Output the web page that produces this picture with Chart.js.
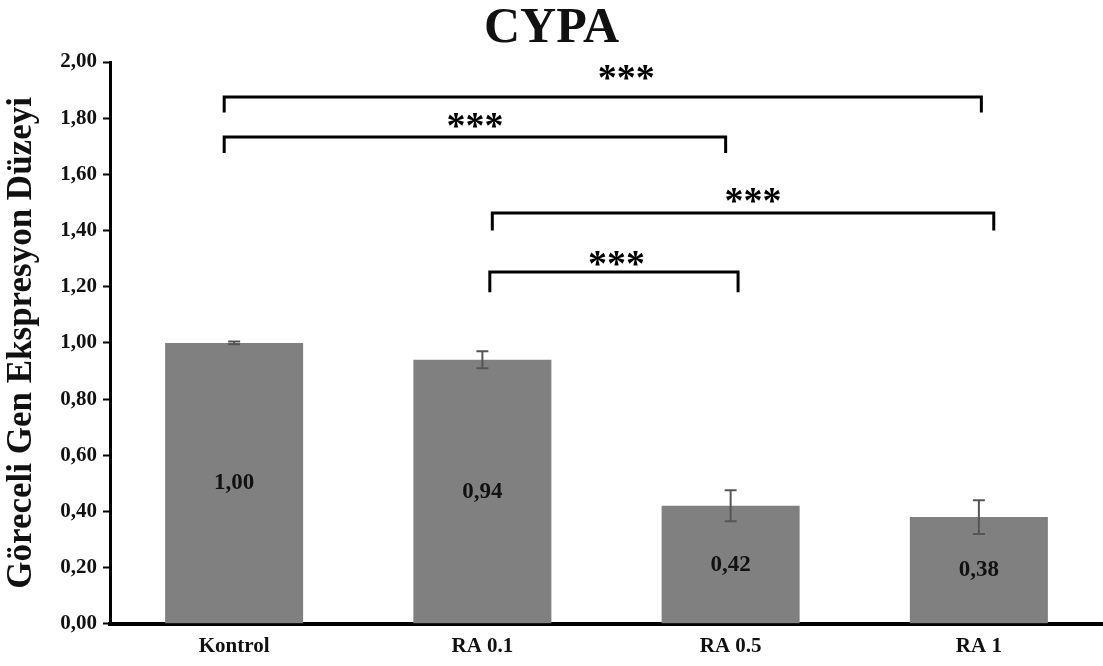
<!DOCTYPE html>
<html>
<head>
<meta charset="utf-8">
<script src="https://cdn.jsdelivr.net/npm/chart.js@4"></script>
<style>
  html, body { margin: 0; padding: 0; background: #ffffff; }
  #wrap { width: 1103px; height: 666px; }
</style>
</head>
<body>
<div id="wrap"><canvas id="cypa-chart"></canvas></div>
<script>
const categories = ['Kontrol', 'RA 0.1', 'RA 0.5', 'RA 1'];
const means = [1.00, 0.94, 0.42, 0.38];
const errors = [0.005, 0.03, 0.055, 0.06];
const mean_labels = ['1,00', '0,94', '0,42', '0,38'];
const y_ticks = [0, 0.2, 0.4, 0.6, 0.8, 1.0, 1.2, 1.4, 1.6, 1.8, 2.0];

// significance brackets (category index units / y value units)
const bracket_from = [-0.04, -0.04, 1.04, 1.03];
const bracket_to = [3.01, 1.98, 3.06, 2.03];
const bracket_y = [1.875, 1.733, 1.462, 1.252];
const bracket_leg = [1.82, 1.676, 1.40, 1.18];
const star_x = [1.58, 0.97, 2.09, 1.54];
const star_y = [1.946, 1.775, 1.508, 1.283];
const star_text = ['***', '***', '***', '***'];

const serif = '"Liberation Serif", "Times New Roman", serif';
const fmt = function (v) { return v.toFixed(2).replace('.', ','); };

const extrasPlugin = {
  id: 'extras',
  afterDatasetsDraw: function (chart) {
    var ctx = chart.ctx;
    var xs = chart.scales.x, ys = chart.scales.y;
    ctx.save();

    // value labels inside bars
    ctx.fillStyle = '#111111';
    ctx.font = 'bold 23px ' + serif;
    ctx.textAlign = 'center';
    ctx.textBaseline = 'middle';
    for (var i = 0; i < means.length; i++) {
      ctx.fillText(mean_labels[i], xs.getPixelForValue(i), ys.getPixelForValue(means[i] / 2));
    }

    // error bars
    ctx.strokeStyle = '#555555';
    ctx.lineWidth = 2;
    for (var i = 0; i < means.length; i++) {
      var x = xs.getPixelForValue(i);
      var top = ys.getPixelForValue(means[i] + errors[i]);
      var bot = ys.getPixelForValue(means[i] - errors[i]);
      ctx.beginPath();
      ctx.moveTo(x, top); ctx.lineTo(x, bot);
      ctx.moveTo(x - 6, top); ctx.lineTo(x + 6, top);
      ctx.moveTo(x - 6, bot); ctx.lineTo(x + 6, bot);
      ctx.stroke();
    }

    // brackets
    ctx.strokeStyle = '#000000';
    ctx.lineWidth = 3;
    for (var i = 0; i < bracket_y.length; i++) {
      var x1 = xs.getPixelForValue(bracket_from[i]);
      var x2 = xs.getPixelForValue(bracket_to[i]);
      var yb = ys.getPixelForValue(bracket_y[i]);
      var yl = ys.getPixelForValue(bracket_leg[i]);
      ctx.beginPath();
      ctx.moveTo(x1, yl); ctx.lineTo(x1, yb); ctx.lineTo(x2, yb); ctx.lineTo(x2, yl);
      ctx.stroke();
    }
    // stars: asterisk glyph sits high, so place baseline below its visual centre
    ctx.fillStyle = '#000000';
    ctx.font = 'bold 38px ' + serif;
    ctx.textBaseline = 'alphabetic';
    for (var i = 0; i < star_text.length; i++) {
      ctx.fillText(star_text[i], xs.getPixelForValue(star_x[i]), ys.getPixelForValue(star_y[i]) + 13);
    }
    ctx.restore();
  }
};

var chart = new Chart(document.getElementById('cypa-chart'), {
  type: 'bar',
  data: {
    labels: categories,
    datasets: [{
      label: 'CYPA',
      data: means,
      backgroundColor: '#808080',
      borderWidth: 0,
      categoryPercentage: 1.0,
      barPercentage: 0.556
    }]
  },
  options: {
    responsive: true,
    maintainAspectRatio: false,
    animation: false,
    layout: { padding: { top: 0, right: 0, bottom: -3, left: 0 } },
    plugins: {
      legend: { display: false },
      tooltip: { enabled: false },
      title: {
        display: true,
        text: 'CYPA',
        color: '#111111',
        font: { family: serif, size: 50, weight: 'bold', lineHeight: 1.0 },
        padding: { top: 4, bottom: 8 }
      }
    },
    scales: {
      x: {
        grid: { display: false, drawTicks: false },
        border: { display: true, color: '#000000', width: 4 },
        ticks: {
          color: '#111111',
          font: { family: serif, size: 21, weight: 'bold' },
          padding: 10
        }
      },
      y: {
        min: 0,
        max: 2,
        afterBuildTicks: function (scale) {
          scale.ticks = y_ticks.map(function (v) { return { value: v }; });
        },
        afterFit: function (scale) { scale.width = 110; },
        grid: {
          display: true,
          drawOnChartArea: false,
          drawTicks: true,
          tickLength: 7,
          tickWidth: 2,
          tickColor: '#000000'
        },
        border: { display: true, color: '#000000', width: 3 },
        ticks: {
          color: '#111111',
          font: { family: serif, size: 21, weight: 'bold' },
          padding: 6,
          callback: function (v) { return fmt(v); }
        },
        title: {
          display: true,
          text: 'Göreceli Gen Ekspresyon Düzeyi',
          color: '#111111',
          font: { family: serif, size: 35, weight: 'bold' },
          padding: { top: 1, bottom: 0 }
        }
      }
    }
  },
  plugins: [extrasPlugin]
});
</script>
</body>
</html>
